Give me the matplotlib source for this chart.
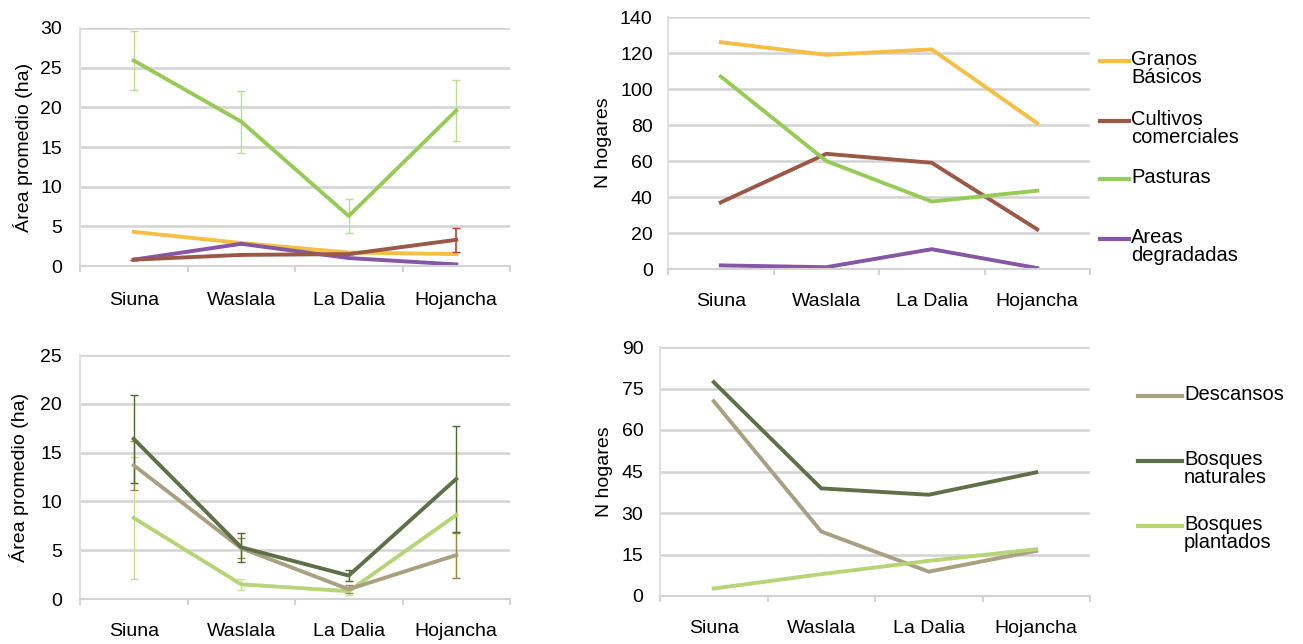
import matplotlib.pyplot as plt
from matplotlib.lines import Line2D
import numpy as np

plt.rcParams['font.family'] = ['Liberation Sans', 'DejaVu Sans']

sites = ["Siuna", "Waslala", "La Dalia", "Hojancha"]

# top left: area promedio (ha) by land use
area_granos = [4.3, 2.9, 1.7, 1.5]
area_cultivos = [0.8, 1.4, 1.5, 3.3]
area_cultivos_err = [0.0, 0.0, 0.0, 1.5]
area_pasturas = [25.9, 18.2, 6.3, 19.6]
area_pasturas_err = [3.7, 3.9, 2.1, 3.8]
area_degradadas = [0.8, 2.8, 1.0, 0.2]

# top right: N hogares by land use
hog_granos = [126, 119, 122, 81]
hog_cultivos = [37, 64, 59, 22]
hog_pasturas = [107, 60, 37.5, 43.5]
hog_degradadas = [2, 1, 11, 0.5]

# bottom left: area promedio (ha) forests / fallow
area_descansos = [13.7, 5.2, 1.0, 4.5]
area_descansos_err = [2.5, 1.0, 0.4, 2.3]
area_naturales = [16.4, 5.3, 2.4, 12.3]
area_naturales_err = [4.5, 1.5, 0.6, 5.4]
area_plantados = [8.3, 1.5, 0.8, 8.6]
area_plantados_err = [6.2, 0.6, 0.4, 6.4]

# bottom right: N hogares forests / fallow
hog_descansos = [70.4, 23.3, 8.8, 16.3]
hog_naturales = [77.3, 38.9, 36.6, 44.7]
hog_plantados = [2.7, 7.9, 12.7, 16.9]

c_granos = "#F5BE45"
c_cultivos = "#9A5847"
c_pasturas = "#97CB57"
c_degradadas = "#8556A3"
c_descansos = "#A8A080"
c_naturales = "#5F7048"
c_plantados = "#B7D577"

W, H = 1303, 644
fig = plt.figure(figsize=(W / 100, H / 100), dpi=100)


def box(x0, x1, ytop, ybot):
    # pixel box -> figure fraction rect
    return [x0 / W, 1 - ybot / H, (x1 - x0) / W, (ybot - ytop) / H]


ax_tl = fig.add_axes(box(80, 510, 28, 266))
ax_bl = fig.add_axes(box(80, 510, 355, 599))
ax_tr = fig.add_axes(box(668, 1090, 17, 269))
ax_br = fig.add_axes(box(660, 1090, 347, 596))

x = np.arange(len(sites))
grid_c = "#D3D3D3"


def style(ax, ymax, step, ylabel, xpad, ypad, lpad):
    ax.set_xlim(-0.5, len(sites) - 0.5)
    ax.set_ylim(0, ymax)
    ax.set_yticks(np.arange(0, ymax + 0.1, step))
    ax.set_xticks(x)
    ax.set_xticklabels(sites)
    ax.set_xticks(np.arange(-0.5, len(sites), 1), minor=True)
    ax.tick_params(axis='x', which='major', length=0, pad=xpad, labelsize=14)
    ax.tick_params(axis='x', which='minor', length=4, color=grid_c, width=1.5, direction='out')
    ax.tick_params(axis='y', length=0, pad=ypad, labelsize=14)
    ax.grid(axis='y', color=grid_c, linewidth=1.8)
    ax.set_axisbelow(True)
    for side in ("top", "right"):
        ax.spines[side].set_visible(False)
    for side in ("bottom", "left"):
        ax.spines[side].set_color("#E0E0E0")
        ax.spines[side].set_linewidth(1.5)
    ax.spines["bottom"].set_color(grid_c)
    ax.set_ylabel(ylabel, fontsize=14, labelpad=lpad)


def legend(entries, x0, x1, xt):
    for label, color, ytxt in entries:
        yf = 1 - (ytxt + 1) / H
        fig.add_artist(Line2D([x0 / W, x1 / W], [yf, yf], color=color, lw=3,
                              transform=fig.transFigure))
        fig.text(xt / W, 1 - (ytxt - 10) / H, label, fontsize=14.5, va='top', ha='left',
                 linespacing=0.95)


lw = 2.8

# top left
ax_tl.errorbar(x, area_pasturas, yerr=area_pasturas_err, color=c_pasturas, lw=lw,
               elinewidth=1, capsize=3, ecolor="#BCDC90")
ax_tl.plot(x, area_granos, color=c_granos, lw=lw)
ax_tl.errorbar(x, area_cultivos, yerr=area_cultivos_err, color=c_cultivos, lw=lw,
               elinewidth=1.2, capsize=3, ecolor="#B8402E")
ax_tl.plot(x, area_degradadas, color=c_degradadas, lw=lw)
style(ax_tl, 30, 5, "Área promedio (ha)", 19, 13, 5)

# top right
ax_tr.plot(x, hog_granos, color=c_granos, lw=lw)
ax_tr.plot(x, hog_cultivos, color=c_cultivos, lw=lw)
ax_tr.plot(x, hog_pasturas, color=c_pasturas, lw=lw)
ax_tr.plot(x, hog_degradadas, color=c_degradadas, lw=lw)
style(ax_tr, 140, 20, "N hogares", 17.5, 11, 6)
legend([("Granos\nBásicos", c_granos, 60),
        ("Cultivos\ncomerciales", c_cultivos, 120),
        ("Pasturas", c_pasturas, 178),
        ("Areas\ndegradadas", c_degradadas, 238)], 1100, 1129, 1131)

# bottom left
ax_bl.errorbar(x, area_plantados, yerr=area_plantados_err, color=c_plantados, lw=lw,
               elinewidth=1, capsize=3, ecolor="#C7DE96")
ax_bl.errorbar(x, area_descansos, yerr=area_descansos_err, color=c_descansos, lw=lw,
               elinewidth=1, capsize=3, ecolor="#A08A3A")
ax_bl.errorbar(x, area_naturales, yerr=area_naturales_err, color=c_naturales, lw=lw,
               elinewidth=1, capsize=3, ecolor="#4E6A2E")
style(ax_bl, 25, 5, "Área promedio (ha)", 17.5, 13, 8)

# bottom right
ax_br.plot(x, hog_descansos, color=c_descansos, lw=lw)
ax_br.plot(x, hog_naturales, color=c_naturales, lw=lw)
ax_br.plot(x, hog_plantados, color=c_plantados, lw=lw)
style(ax_br, 90, 15, "N hogares", 17.5, 12, 6)
legend([("Descansos", c_descansos, 395),
        ("Bosques\nnaturales", c_naturales, 460),
        ("Bosques\nplantados", c_plantados, 525)], 1138, 1182, 1184)

fig.savefig("out.png", dpi=100, facecolor="white")
